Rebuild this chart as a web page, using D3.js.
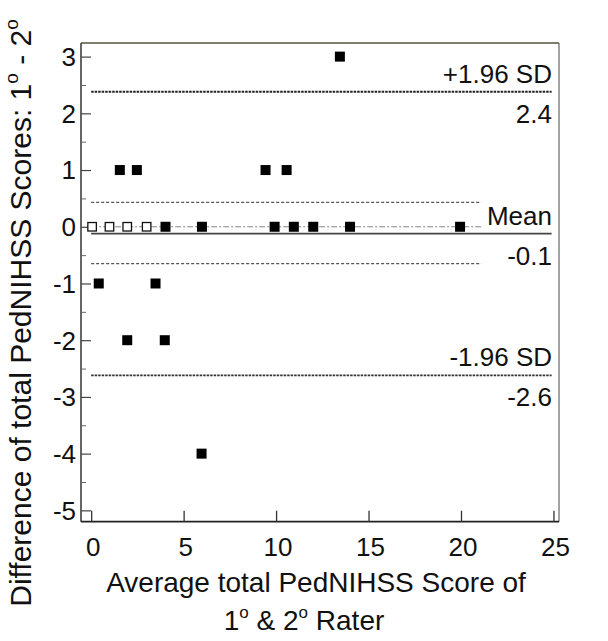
<!DOCTYPE html>
<html>
<head>
<meta charset="utf-8">
<script src="https://cdn.jsdelivr.net/npm/d3@7"></script>
<style>
  html, body { margin: 0; padding: 0; background: #fff; }
  text { font-family: "Liberation Sans", Arial, sans-serif; fill: #111; }
</style>
</head>
<body>
<svg id="chart" width="608" height="641"></svg>
<script>
// ---- data ----
const filledX = [13.45, 1.55, 2.47, 9.43, 10.57, 4.02, 5.99, 9.92, 10.96, 12.01, 14.0, 19.95, 0.41, 3.48, 1.95, 3.98, 5.97];
const filledY = [3, 1, 1, 1, 1, 0, 0, 0, 0, 0, 0, 0, -1, -1, -2, -2, -4];
const openX = [0.05, 0.99, 1.95, 3.0];
const openY = [0, 0, 0, 0];
const meanDiff = -0.12;
const upperLoA = 2.38;
const lowerLoA = -2.62;
const ciMeanUpper = 0.43;
const ciMeanLower = -0.65;
const xTicks = [0, 5, 10, 15, 20, 25];
const yTicks = [3, 2, 1, 0, -1, -2, -3, -4, -5];
const yMinorTicks = [2.5, 1.5, 0.5, -0.5, -1.5, -2.5, -3.5, -4.5];
const labelUpper = ["+1.96 SD", "2.4"];
const labelMean = ["Mean", "-0.1"];
const labelLower = ["-1.96 SD", "-2.6"];

// ---- layout ----
const svg = d3.select("#chart");
const L = 81, R = 559, T = 43, B = 521.7;
const x = d3.scaleLinear().domain([-0.55, 25.3]).range([L, R]);
const y = d3.scaleLinear().domain([-5.2, 3.24]).range([B, T]);
const lineEndLong = 24.9, lineEndShort = 21.1;
const FS = 26;

// frame
svg.append("line").attr("x1", L).attr("x2", R).attr("y1", T).attr("y2", T).attr("stroke", "#55533a").attr("stroke-width", 1.5);
svg.append("line").attr("x1", R).attr("x2", R).attr("y1", T).attr("y2", B).attr("stroke", "#666").attr("stroke-width", 1.2);
svg.append("line").attr("x1", L).attr("x2", L).attr("y1", T).attr("y2", B).attr("stroke", "#333").attr("stroke-width", 1.5);
svg.append("line").attr("x1", L).attr("x2", R).attr("y1", B).attr("y2", B).attr("stroke", "#222").attr("stroke-width", 1.8);

// y axis ticks (inward)
const yAxis = d3.axisRight(y).tickValues(yTicks).tickSize(10).tickFormat("");
const gy = svg.append("g").attr("transform", `translate(${L},0)`).call(yAxis);
gy.select(".domain").remove();
gy.selectAll(".tick line").attr("stroke", "#444").attr("stroke-width", 1.2);
const yMinor = d3.axisRight(y).tickValues(yMinorTicks).tickSize(5).tickFormat("");
const gym = svg.append("g").attr("transform", `translate(${L},0)`).call(yMinor);
gym.select(".domain").remove();
gym.selectAll(".tick line").attr("stroke", "#666").attr("stroke-width", 1);
// y tick labels
svg.append("g").selectAll("text").data(yTicks).join("text")
  .attr("x", 76).attr("y", d => y(d)).attr("dy", "0.36em")
  .attr("text-anchor", "end").attr("font-size", FS).text(d => d);

// x axis ticks (inward, upward)
const xAxis = d3.axisTop(x).tickValues(xTicks).tickSize(11).tickFormat("");
const gx = svg.append("g").attr("transform", `translate(0,${B})`).call(xAxis);
gx.select(".domain").remove();
gx.selectAll(".tick line").attr("stroke", "#333").attr("stroke-width", 1.3);
svg.append("g").selectAll("text").data(xTicks).join("text")
  .attr("x", d => x(d) + 2).attr("y", 556)
  .attr("text-anchor", "middle").attr("font-size", FS).text(d => d);

// reference lines
function hline(v, x2, stroke, width, dash) {
  svg.append("line").attr("x1", x(0)).attr("x2", x(x2))
    .attr("y1", y(v)).attr("y2", y(v))
    .attr("stroke", stroke).attr("stroke-width", width)
    .attr("stroke-dasharray", dash);
}
hline(0, lineEndShort, "#888", 1.2, "6,2,2,2");
hline(ciMeanUpper, lineEndShort, "#555", 1.3, "3,2");
hline(ciMeanLower, lineEndShort, "#555", 1.3, "3,2");
hline(upperLoA, lineEndLong, "#222", 2, "2.5,1");
hline(lowerLoA, lineEndLong, "#333", 1.6, "2.5,1");
hline(meanDiff, lineEndLong, "#444", 1.8, null);

// line labels
function lineLabel(v, texts) {
  svg.append("text").attr("x", 552).attr("y", y(v) - 9).attr("text-anchor", "end").attr("font-size", FS).text(texts[0]);
  svg.append("text").attr("x", 552).attr("y", y(v) + 31).attr("text-anchor", "end").attr("font-size", FS).text(texts[1]);
}
lineLabel(upperLoA, labelUpper);
lineLabel(meanDiff, labelMean);
lineLabel(lowerLoA, labelLower);

// points
const openSize = 8.5, filledSize = 10;
svg.append("g").selectAll("rect").data(openX.map((d, i) => [d, openY[i]])).join("rect")
  .attr("x", d => x(d[0]) - openSize / 2).attr("y", d => y(d[1]) - openSize / 2)
  .attr("width", openSize).attr("height", openSize)
  .attr("fill", "#fff").attr("stroke", "#111").attr("stroke-width", 1.3);
svg.append("g").selectAll("rect").data(filledX.map((d, i) => [d, filledY[i]])).join("rect")
  .attr("x", d => x(d[0]) - filledSize / 2).attr("y", d => y(d[1]) - filledSize / 2)
  .attr("width", filledSize).attr("height", filledSize)
  .attr("fill", "#000");

// axis titles
const xt = svg.append("g").attr("font-size", 28);
xt.append("text").attr("x", 316).attr("y", 592).attr("text-anchor", "middle").text("Average total PedNIHSS Score of");
const xt2 = xt.append("text").attr("x", 304).attr("y", 630).attr("text-anchor", "middle");
xt2.append("tspan").text("1");
xt2.append("tspan").attr("dy", -12).attr("font-size", 17).text("o");
xt2.append("tspan").attr("dy", 12).text(" & 2");
xt2.append("tspan").attr("dy", -12).attr("font-size", 17).text("o");
xt2.append("tspan").attr("dy", 12).text(" Rater");

const yt = svg.append("text").attr("font-size", 30).attr("text-anchor", "middle")
  .attr("transform", "translate(31,313) rotate(-90)");
yt.append("tspan").text("Difference of total PedNIHSS Scores: 1");
yt.append("tspan").attr("dy", -13).attr("font-size", 19).text("o");
yt.append("tspan").attr("dy", 13).text(" - 2");
yt.append("tspan").attr("dy", -13).attr("font-size", 19).text("o");
</script>
</body>
</html>
